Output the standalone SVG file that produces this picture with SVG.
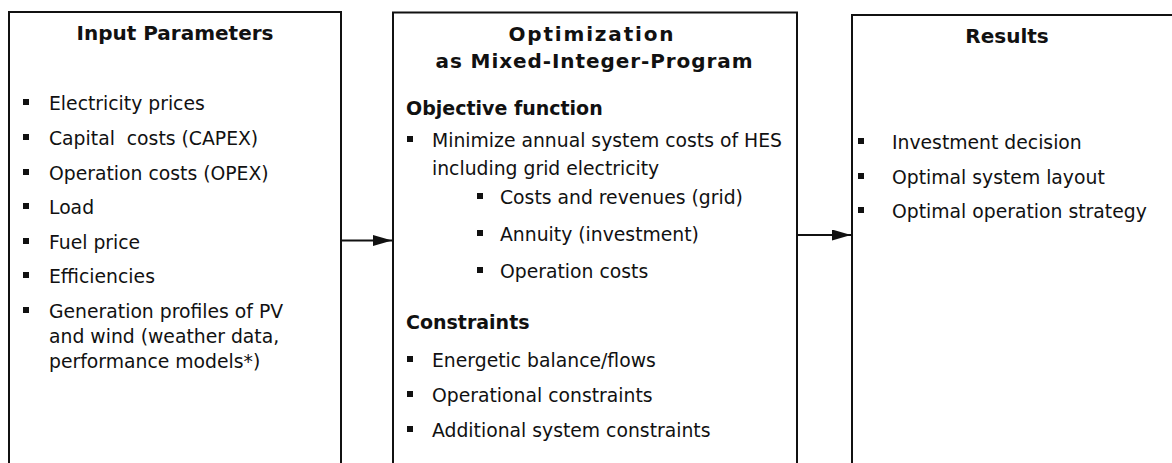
<svg xmlns="http://www.w3.org/2000/svg" width="1172" height="463" viewBox="0 0 1172 463">
<style>
.box{fill:#fff;stroke:#111;stroke-width:2}
.t{font-family:"DejaVu Sans","Liberation Sans",sans-serif;font-size:18.8px;fill:#111}
.h{font-family:"DejaVu Sans","Liberation Sans",sans-serif;font-size:20px;font-weight:bold;fill:#111}
.hs{font-family:"DejaVu Sans","Liberation Sans",sans-serif;font-size:19px;font-weight:bold;fill:#111}
.b{fill:#111}
.c{stroke:#111;stroke-width:2;fill:none}
</style>
<defs>
<marker id="ah" markerWidth="19" markerHeight="11" refX="19" refY="5.5" orient="auto" markerUnits="userSpaceOnUse">
<path d="M0,0 L19,5.5 L0,11 Z" fill="#111"/>
</marker>
</defs>
<rect width="1172" height="463" fill="#fff"/>
<g id="input">
<rect class="box" x="9" y="12" width="332" height="470"/>
<text class="h" x="175" y="40" text-anchor="middle">Input Parameters</text>
<g class="b">
<rect x="23" y="99" width="6" height="6"/>
<rect x="23" y="134" width="6" height="6"/>
<rect x="23" y="169" width="6" height="6"/>
<rect x="23" y="203" width="6" height="6"/>
<rect x="23" y="238" width="6" height="6"/>
<rect x="23" y="272" width="6" height="6"/>
<rect x="23" y="307" width="6" height="6"/>
</g>
<text class="t" x="49" y="110">Electricity prices</text>
<text class="t" x="49" y="145" xml:space="preserve">Capital  costs (CAPEX)</text>
<text class="t" x="49" y="180">Operation costs (OPEX)</text>
<text class="t" x="49" y="214">Load</text>
<text class="t" x="49" y="249">Fuel price</text>
<text class="t" x="49" y="283">Efficiencies</text>
<text class="t" x="49" y="318">Generation profiles of PV</text>
<text class="t" x="49" y="343">and wind (weather data,</text>
<text class="t" x="49" y="368">performance models*)</text>
</g>
<g id="optimization">
<rect class="box" x="393" y="12.5" width="404" height="470"/>
<text class="h" x="591" y="41" text-anchor="middle" textLength="165" lengthAdjust="spacing">Optimization</text>
<text class="h" x="594" y="68" text-anchor="middle" textLength="317" lengthAdjust="spacing">as Mixed-Integer-Program</text>
<text class="hs" x="406" y="115">Objective function</text>
<g class="b">
<rect x="407" y="136" width="6" height="6"/>
<rect x="477" y="193" width="6" height="6"/>
<rect x="477" y="230" width="6" height="6"/>
<rect x="477" y="267" width="6" height="6"/>
<rect x="407" y="356" width="6" height="6"/>
<rect x="407" y="391" width="6" height="6"/>
<rect x="407" y="426" width="6" height="6"/>
</g>
<text class="t" x="432" y="147">Minimize annual system costs of HES</text>
<text class="t" x="432" y="175">including grid electricity</text>
<text class="t" x="500" y="204">Costs and revenues (grid)</text>
<text class="t" x="500" y="241">Annuity (investment)</text>
<text class="t" x="500" y="278">Operation costs</text>
<text class="hs" x="406" y="329">Constraints</text>
<text class="t" x="432" y="367">Energetic balance/flows</text>
<text class="t" x="432" y="402">Operational constraints</text>
<text class="t" x="432" y="437">Additional system constraints</text>
</g>
<g id="results">
<rect class="box" x="852" y="15" width="340" height="470"/>
<text class="h" x="1007" y="43" text-anchor="middle">Results</text>
<g class="b">
<rect x="858" y="138" width="6" height="6"/>
<rect x="858" y="173" width="6" height="6"/>
<rect x="858" y="207" width="6" height="6"/>
</g>
<text class="t" x="892" y="149">Investment decision</text>
<text class="t" x="892" y="184">Optimal system layout</text>
<text class="t" x="892" y="218">Optimal operation strategy</text>
</g>
<g id="connectors">
<line class="c" x1="341" y1="240.5" x2="392" y2="240.5" marker-end="url(#ah)"/>
<line class="c" x1="797" y1="235" x2="851" y2="235" marker-end="url(#ah)"/>
</g>
</svg>
